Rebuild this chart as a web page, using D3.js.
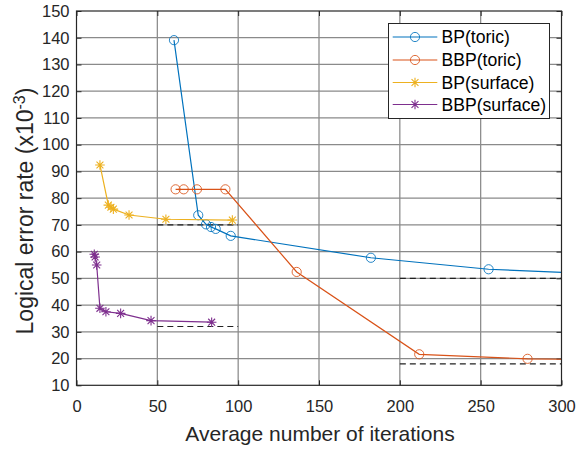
<!DOCTYPE html>
<html>
<head>
<meta charset="utf-8">
<script src="https://cdn.jsdelivr.net/npm/d3@7/dist/d3.min.js"></script>
<style>
  html, body { margin: 0; padding: 0; background: #fff; }
  svg { display: block; font-family: "Liberation Sans", Arial, sans-serif; }
</style>
</head>
<body>
<svg id="chart" width="583" height="449"></svg>
<script>
// Series: average iterations (x) vs logical error rate ×10^-3 (y)
const bpToricX  = [60.3, 75.3, 80.1, 83.2, 86.1, 95.4, 182.1, 254.9, 350];
const bpToricY  = [139.1, 73.6, 70.2, 69.2, 68.5, 65.9, 57.7, 53.4, 51.0];
const bbpToricX = [61.3, 66.3, 74.5, 92.1, 136.2, 212.0, 279.0, 360];
const bbpToricY = [83.3, 83.3, 83.3, 83.3, 52.4, 21.6, 19.9, 19.3];
const bpSurfX   = [14.5, 19.7, 21.3, 22.8, 32.5, 55.3, 96.4];
const bpSurfY   = [92.4, 77.4, 76.6, 75.9, 73.7, 72.1, 71.8];
const bbpSurfX  = [11.0, 11.5, 12.5, 14.5, 18.2, 27.3, 46.1, 83.6];
const bbpSurfY  = [59.0, 58.0, 55.0, 38.8, 37.5, 36.9, 34.2, 33.6];

// Reference levels drawn as dashed segments: [x0, x1, y]
const refX0 = [50, 50, 200, 200];
const refX1 = [100, 100, 300, 300];
const refY  = [70, 32, 50, 18];

const xTicks = [0, 50, 100, 150, 200, 250, 300];
const yTicks = [10, 20, 30, 40, 50, 60, 70, 80, 90, 100, 110, 120, 130, 140, 150];

const seriesNames  = ["BP(toric)", "BBP(toric)", "BP(surface)", "BBP(surface)"];
const seriesColors = ["#0072BD", "#D95319", "#EDB120", "#7E2F8E"];
const seriesMarker = ["circle", "circle", "star", "star"];
const seriesX = [bpToricX, bbpToricX, bpSurfX, bbpSurfX];
const seriesY = [bpToricY, bbpToricY, bpSurfY, bbpSurfY];

const svg = d3.select("#chart");
const L = 76.5, R = 561.5, T = 11, B = 385.3;
const x = d3.scaleLinear().domain([0, 300]).range([L, R]);
const y = d3.scaleLinear().domain([10, 150]).range([B, T]);

// Grid
const grid = svg.append("g").attr("stroke", "#8a8a8a").attr("stroke-width", 1.25);
xTicks.slice(1, -1).forEach(t => grid.append("line")
  .attr("x1", x(t)).attr("x2", x(t)).attr("y1", T).attr("y2", B));
yTicks.slice(1, -1).forEach(t => grid.append("line")
  .attr("x1", L).attr("x2", R).attr("y1", y(t)).attr("y2", y(t)));

// Axes with inward ticks
const tickColor = "#262626";
const ax = svg.append("g").attr("transform", `translate(0,${B})`)
  .call(d3.axisBottom(x).tickValues(xTicks).tickSize(-5).tickPadding(15).tickSizeOuter(0));
const ay = svg.append("g").attr("transform", `translate(${L},0)`)
  .call(d3.axisLeft(y).tickValues(yTicks).tickSize(-5).tickPadding(7).tickSizeOuter(0));
const axTop = svg.append("g").attr("transform", `translate(0,${T})`)
  .call(d3.axisTop(x).tickValues(xTicks).tickSize(-5).tickFormat("").tickSizeOuter(0));
const ayRight = svg.append("g").attr("transform", `translate(${R},0)`)
  .call(d3.axisRight(y).tickValues(yTicks).tickSize(-5).tickFormat("").tickSizeOuter(0));
[ax, ay, axTop, ayRight].forEach(g => {
  g.select(".domain").remove();
  g.selectAll("line").attr("stroke", tickColor);
  g.selectAll("text").attr("fill", tickColor).style("font-size", "16.5px")
    .style("font-family", "'Liberation Sans', Arial, sans-serif");
});

// Clip for data lines
svg.append("clipPath").attr("id", "plotClip").append("rect")
  .attr("x", L).attr("y", T).attr("width", R - L).attr("height", B - T);

// Dashed reference segments
const refG = svg.append("g").attr("clip-path", "url(#plotClip)");
refY.forEach((v, i) => refG.append("line")
  .attr("x1", x(refX0[i])).attr("x2", x(refX1[i]))
  .attr("y1", y(v)).attr("y2", y(v))
  .attr("stroke", "#222").attr("stroke-width", 1.2).attr("stroke-dasharray", "6,4"));

function drawMarker(g, type, cx, cy, color, size) {
  if (type === "circle") {
    g.append("circle").attr("cx", cx).attr("cy", cy).attr("r", size)
      .attr("fill", "none").attr("stroke", color).attr("stroke-width", 1).attr("stroke-opacity", 0.85);
  } else {
    const s = size, d = size * 0.72;
    const p = `M${cx - s},${cy}L${cx + s},${cy}M${cx},${cy - s}L${cx},${cy + s}` +
              `M${cx - d},${cy - d}L${cx + d},${cy + d}M${cx - d},${cy + d}L${cx + d},${cy - d}`;
    g.append("path").attr("d", p).attr("stroke", color).attr("stroke-width", 1.1).attr("fill", "none");
  }
}

const line = d3.line();
const dataG = svg.append("g").attr("clip-path", "url(#plotClip)");
seriesNames.forEach((name, i) => {
  const pts = seriesX[i].map((v, j) => [x(v), y(seriesY[i][j])]);
  dataG.append("path").attr("d", line(pts)).attr("fill", "none")
    .attr("stroke", seriesColors[i]).attr("stroke-width", 1.2);
  pts.forEach(p => drawMarker(dataG, seriesMarker[i], p[0], p[1], seriesColors[i],
    seriesMarker[i] === "circle" ? 4.6 : 4.8));
});

// Box
svg.append("rect").attr("x", L).attr("y", T).attr("width", R - L).attr("height", B - T)
  .attr("fill", "none").attr("stroke", "#262626").attr("stroke-width", 1.2);

// Axis labels
svg.append("text").attr("x", (L + R) / 2 + 1).attr("y", 441).attr("text-anchor", "middle")
  .attr("fill", "#262626").style("font-size", "21px").text("Average number of iterations");
const yl = svg.append("text").attr("transform", "translate(33,211) rotate(-90)")
  .attr("text-anchor", "middle").attr("fill", "#262626").style("font-size", "23px");
yl.append("tspan").text("Logical error rate (x10");
yl.append("tspan").attr("dy", -8).style("font-size", "16px").text("-3");
yl.append("tspan").attr("dy", 8).text(")");

// Legend
const lg = svg.append("g");
lg.append("rect").attr("x", 388.5).attr("y", 23.5).attr("width", 161).attr("height", 95)
  .attr("fill", "#fff").attr("stroke", "#262626").attr("stroke-width", 1);
const rowY = [37, 60, 82.5, 104.5];
seriesNames.forEach((name, i) => {
  lg.append("line").attr("x1", 392.7).attr("x2", 437.3).attr("y1", rowY[i]).attr("y2", rowY[i])
    .attr("stroke", seriesColors[i]).attr("stroke-width", 1.2);
  drawMarker(lg, seriesMarker[i], 415, rowY[i], seriesColors[i], seriesMarker[i] === "circle" ? 4.6 : 4.8);
  lg.append("text").attr("x", 441.5).attr("y", rowY[i]).attr("dy", "0.36em")
    .attr("fill", "#000").style("font-size", "17.6px").text(name);
});
</script>
</body>
</html>
